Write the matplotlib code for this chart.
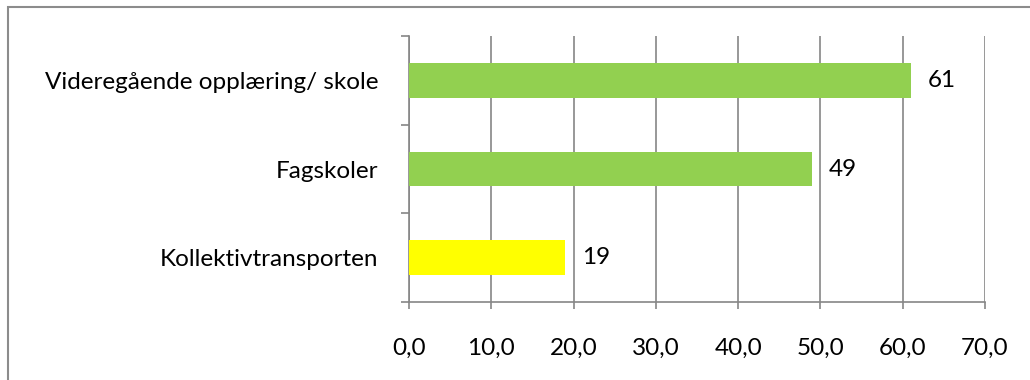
import matplotlib
matplotlib.use("Agg")
import matplotlib.pyplot as plt
import matplotlib.patches as patches

# Data
kategorier = ["Videregående opplæring/ skole", "Fagskoler", "Kollektivtransporten"]
verdier = [61, 49, 19]
farger = ["#92D050", "#92D050", "#FFFF00"]
xticks = [0, 10, 20, 30, 40, 50, 60, 70]

plt.rcParams['font.family'] = ['Lato', 'DejaVu Sans']
grid_farge = "#868686"
fs = 17.5

fig = plt.figure(figsize=(10.3, 3.8), dpi=100)
ax = fig.add_axes([409/1030, 1 - 302/380, 576/1030, 266/380])

# Ramme rundt diagramområdet
fig.patches.append(patches.Rectangle((8/1030, -0.1), 1.2, 1 - 7/380 + 0.1,
                                     transform=fig.transFigure, fill=False,
                                     edgecolor="#8C8C8C", linewidth=1.5))

pos = list(range(len(kategorier)))
ax.barh(pos, verdier, height=0.39, color=farger, zorder=3)
for p, v in zip(pos, verdier):
    ax.text(v + 2.0, p, f"{v}", va="center", ha="left", fontsize=fs, color="black")

ax.set_xlim(0, 70)
ax.set_ylim(2.5, -0.5)
ax.set_xticks(xticks)
ax.set_xticklabels([f"{t:.1f}".replace(".", ",") for t in xticks], fontsize=fs)
ax.set_yticks(pos)
ax.set_yticklabels(kategorier, fontsize=fs)
ax.set_yticks([-0.5, 0.5, 1.5, 2.5], minor=True)

ax.tick_params(axis="y", which="major", length=0, pad=22)
ax.tick_params(axis="y", which="minor", length=6, width=1.2, color=grid_farge)
ax.tick_params(axis="x", which="major", length=5, width=1.2, color=grid_farge, pad=21)

ax.xaxis.grid(True, color=grid_farge, linewidth=1.2, zorder=0)
ax.set_axisbelow(True)
for side in ["top", "right"]:
    ax.spines[side].set_visible(False)
for side in ["left", "bottom"]:
    ax.spines[side].set_color(grid_farge)
    ax.spines[side].set_linewidth(1.2)

fig.savefig("out.png", dpi=100, facecolor="white")
